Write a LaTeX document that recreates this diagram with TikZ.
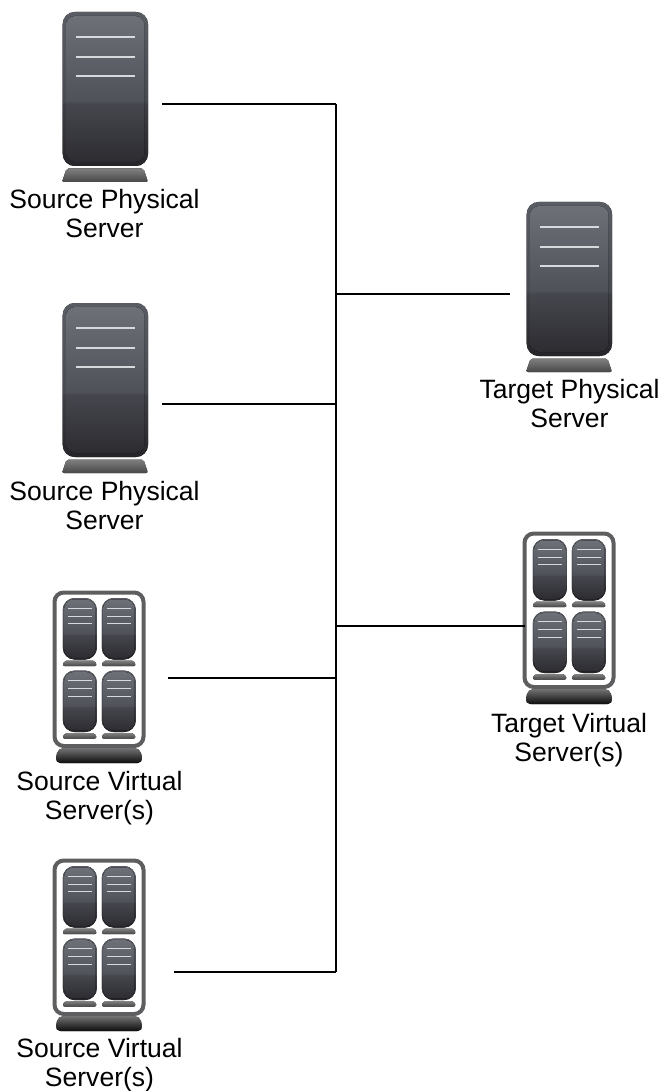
\documentclass[tikz,border=0pt]{standalone}
\usepackage{fontspec}
\setmainfont{Liberation Sans}
\definecolor{frameGray}{HTML}{5E5E60}
\definecolor{stripeGray}{HTML}{D8D9DC}
\definecolor{shellTop}{HTML}{5A5C64}
\definecolor{shellMid}{HTML}{484A51}
\definecolor{shellLow}{HTML}{3E3F45}
\definecolor{shellEnd}{HTML}{26262A}
\definecolor{panelTop}{HTML}{6E7078}
\definecolor{panelMid}{HTML}{50525A}
\definecolor{panelLow}{HTML}{46474E}
\definecolor{panelEnd}{HTML}{2C2C31}
\pgfdeclareverticalshading{towerouter}{100bp}{color(0bp)=(shellEnd); color(25bp)=(shellEnd); color(45bp)=(shellLow); color(46bp)=(shellMid); color(75bp)=(shellTop); color(100bp)=(shellTop)}
\pgfdeclareverticalshading{towerinner}{100bp}{color(0bp)=(panelEnd); color(25bp)=(panelEnd); color(45bp)=(panelLow); color(46bp)=(panelMid); color(75bp)=(panelTop); color(100bp)=(panelTop)}
\tikzset{
  srvlabel/.style={font=\fontsize{19.9}{21.8}\selectfont,align=center,inner sep=0pt},
  link/.style={draw=black,line width=1.2pt},
  physserver/.pic={
    \fill[shading=towerouter,rounded corners=9] (0.7,0) rectangle (86,154);
    \fill[shading=towerinner,rounded corners=7] (4,4) rectangle (82.5,150);
    \foreach \y in {25,45,64}
      \fill[stripeGray] (13.5,\y-1.2) rectangle (73,\y+1.2);
    \fill[top color=black!50,bottom color=black!72,rounded corners=1.5] (4.5,156.5) -- (81.5,156.5) -- (86,170) -- (0,170) -- cycle;
  },
  virtserver/.pic={
    \draw[frameGray,line width=3pt,rounded corners=7] (1.5,1.5) rectangle (90.5,155);
    \pic[scale=.4] at (9.5,7) {physserver};
    \pic[scale=.4] at (48.5,7) {physserver};
    \pic[scale=.4] at (9.5,79.5) {physserver};
    \pic[scale=.4] at (48.5,79.5) {physserver};
    \fill[top color=black!55,bottom color=black!95,rounded corners=4] (5,157) -- (87,157) -- (90,172) -- (2,172) -- cycle;
  }
}
\begin{document}
\begin{tikzpicture}[x=0.75pt,y=-0.75pt]
\useasboundingbox (0,0) rectangle (663,1091);
\pic (SP1) at (62,12) {physserver};
\node[srvlabel] (SP1label) at (104.5,213.5) {Source Physical\\Server};
\pic (SP2) at (62,303) {physserver};
\node[srvlabel] (SP2label) at (104.5,505.5) {Source Physical\\Server};
\pic (SV1) at (53,591) {virtserver};
\node[srvlabel] (SV1label) at (99.5,798.5) {Source Virtual\\Server(s)};
\pic (SV2) at (53,859) {virtserver};
\node[srvlabel] (SV2label) at (99.5,1065.5) {Source Virtual\\Server(s)};
\pic (TP) at (526,202) {physserver};
\node[srvlabel] (TPlabel) at (569.5,403.5) {Target Physical\\Server};
\pic (TV) at (523,532) {virtserver};
\node[srvlabel] (TVlabel) at (569,740.5) {Target Virtual\\Server(s)};
\coordinate (SP1end) at (162,104);
\coordinate (SP2end) at (162,404);
\coordinate (SV1end) at (168,678);
\coordinate (SV2end) at (174,972);
\coordinate (TPend) at (510,294);
\coordinate (TVend) at (525,626);
\coordinate (SP1bus) at (336,104);
\coordinate (SP2bus) at (336,404);
\coordinate (SV1bus) at (336,678);
\coordinate (SV2bus) at (336,972);
\coordinate (TPbus) at (336,294);
\coordinate (TVbus) at (336,626);
\path[link]
  (SP1end) edge (SP1bus)
  (SP2end) edge (SP2bus)
  (SV1end) edge (SV1bus)
  (SV2end) edge (SV2bus)
  (TPbus) edge (TPend)
  (TVbus) edge (TVend)
  (SP1bus) edge (SV2bus)
;
\end{tikzpicture}
\end{document}
